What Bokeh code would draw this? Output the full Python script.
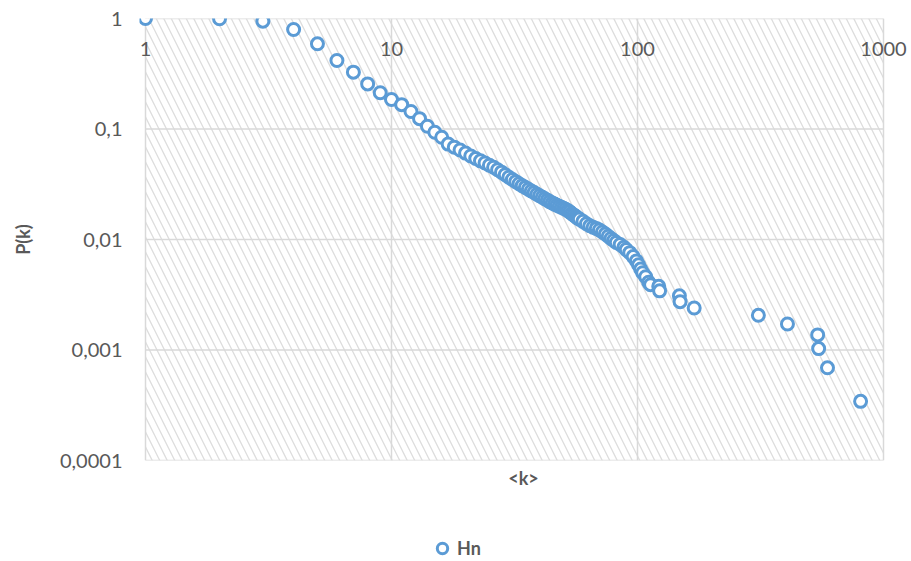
from bokeh.plotting import figure
from bokeh.layouts import column
from bokeh.models import (BoxAnnotation, Legend, LegendItem, FixedTicker,
                          CustomJSTickFormatter, Title, Range1d, ColumnDataSource)
from bokeh.embed import file_html
from bokeh.resources import INLINE

# ---- data ----
series_name = "Hn"
k_vals = [1, 2, 3, 4, 5, 6, 7, 8, 9, 10, 11, 12, 13, 14, 15, 16,
          17, 18, 19, 20, 21, 22, 23, 24, 25, 26, 27, 28, 29, 30,
          31, 32, 33, 34, 35, 36, 37, 38, 39, 40, 41, 42, 43, 44, 45,
          46, 47, 48, 49, 50, 51, 52, 53, 54, 55, 56, 57, 58, 60, 62,
          64, 66, 68, 70, 72, 74, 76, 78, 80, 82, 85, 88, 90, 93, 96,
          99, 101, 103, 105, 108, 111, 113, 122, 123, 148, 149, 170,
          310, 407, 540, 545, 592, 807]
p_vals = [1.0, 0.994, 0.946, 0.795, 0.59, 0.417, 0.327, 0.256, 0.213, 0.185,
          0.166, 0.144, 0.124, 0.106, 0.0935, 0.0843,
          0.073, 0.0685, 0.0645, 0.0605, 0.057, 0.054, 0.0515, 0.0492, 0.047,
          0.0451, 0.0428, 0.0407, 0.0386, 0.0366,
          0.0349, 0.0334, 0.032, 0.0307, 0.0296, 0.0285, 0.0275, 0.0266, 0.0257,
          0.0249, 0.0241, 0.0234, 0.0227, 0.022, 0.0214,
          0.0209, 0.0204, 0.02, 0.0196, 0.0192, 0.0188, 0.0183, 0.0178, 0.0172,
          0.0167, 0.0162, 0.0157, 0.0153, 0.0146, 0.0139,
          0.0133, 0.0129, 0.0126, 0.0122, 0.0117, 0.0112, 0.0107, 0.0102, 0.0098,
          0.0094, 0.009, 0.0085, 0.0081, 0.0076, 0.007,
          0.0064, 0.0059, 0.0054, 0.005, 0.0046, 0.0041, 0.0039, 0.00377, 0.00343,
          0.00309, 0.00274, 0.0024,
          0.00206, 0.00172, 0.00137, 0.00103, 0.00069, 0.000343]
x_ticks = [1, 10, 100, 1000]
y_ticks = [0.0001, 0.001, 0.01, 0.1, 1]
x_title = "<k>"
y_title = "P(k)"

BLUE = "#5B9BD5"
GREY_TXT = "#595959"
GRID = "#D9D9D9"
FONT = "Lato"
MARKER = dict(marker="circle", size=12, line_width=3, line_color=BLUE,
              fill_color="white")

# layout in pixels: plot area spans 145..883 horizontally (246 px per decade);
# the frame is a little wider so the first/last x labels are not clipped
DECADE_PX = 246
PAD_L, PAD_R = 6, 24
x_range = Range1d(x_ticks[0] * 10 ** (-PAD_L / DECADE_PX),
                  x_ticks[-1] * 10 ** (PAD_R / DECADE_PX))

p = figure(width=911, height=500, x_axis_type="log", y_axis_type="log",
           x_range=x_range, y_range=(y_ticks[0], y_ticks[-1]),
           output_backend="svg", toolbar_location=None,
           min_border_left=145 - PAD_L, min_border_right=911 - 883 - PAD_R,
           min_border_top=18, min_border_bottom=40)
p.outline_line_color = None
p.background_fill_color = "white"
p.border_fill_color = "white"

# hatched plot area (only between the first and last x tick)
hatch = BoxAnnotation(left=x_ticks[0], right=x_ticks[-1],
                      fill_color=None, fill_alpha=0, line_color=None,
                      hatch_pattern="\\", hatch_color="#DDDDDD",
                      hatch_scale=15, hatch_weight=1.3, level="image")
p.add_layout(hatch)

fmt = CustomJSTickFormatter(code="return tick.toString().replace('.', ',');")


def style_axis(ax):
    ax.axis_line_color = None
    ax.major_tick_line_color = None
    ax.minor_tick_line_color = None
    ax.major_tick_out = 0
    ax.major_tick_in = 0
    ax.minor_tick_out = 0
    ax.minor_tick_in = 0
    ax.major_label_text_font = FONT
    ax.major_label_text_font_size = "20px"
    ax.major_label_text_color = GREY_TXT
    ax.axis_label_text_font = FONT
    ax.axis_label_text_font_style = "bold"
    ax.axis_label_text_font_size = "18px"
    ax.axis_label_text_color = GREY_TXT


xax = p.xaxis[0]
yax = p.yaxis[0]
style_axis(xax)
style_axis(yax)
xax.formatter = fmt
yax.formatter = fmt
xax.ticker = FixedTicker(ticks=x_ticks, minor_ticks=[])
yax.ticker = FixedTicker(ticks=y_ticks, minor_ticks=[])
xax.fixed_location = y_ticks[-1]   # Excel: horizontal axis crosses at the top
xax.major_label_standoff = 23
yax.major_label_standoff = 23 - PAD_L
yax.axis_label = y_title
yax.axis_label_standoff = 23

# vertical grid lines from the axis ticks
p.xgrid[0].ticker = FixedTicker(ticks=x_ticks, minor_ticks=[])
p.xgrid[0].grid_line_color = GRID
p.xgrid[0].grid_line_width = 1.5
p.xgrid[0].level = "underlay"
# horizontal grid lines limited to the plot area 1..1000
p.ygrid[0].visible = False
p.segment(x0=[x_ticks[0]] * len(y_ticks), x1=[x_ticks[-1]] * len(y_ticks),
          y0=y_ticks, y1=y_ticks, line_color=GRID, line_width=1.5,
          level="underlay")

src = ColumnDataSource(dict(k=k_vals, p=p_vals))
p.scatter("k", "p", source=src, **MARKER)

xtitle = Title(text=x_title, align="center", text_font=FONT,
               text_font_style="bold", text_font_size="18px",
               text_color=GREY_TXT, standoff=8)
p.add_layout(xtitle, "below")

# ---- legend strip below the chart ----
lf = figure(width=911, height=61, output_backend="svg", toolbar_location=None,
            x_range=Range1d(-2, -1), y_range=Range1d(-2, -1),
            x_axis_location=None, y_axis_location=None, min_border=0)
lf.outline_line_color = None
lf.grid.visible = False
lr = lf.scatter("k", "p", source=src, **MARKER)   # off-range: legend swatch only
legend = Legend(items=[LegendItem(label=series_name, renderers=[lr])],
                location=(428 - (145 - PAD_L), 0), orientation="horizontal",
                glyph_width=28, glyph_height=26, label_standoff=1,
                padding=0, margin=0, border_line_color=None,
                background_fill_alpha=0,
                label_text_font=FONT, label_text_font_style="bold",
                label_text_font_size="18px", label_text_color=GREY_TXT)
lf.add_layout(legend)

open("out.html", "w").write(file_html(column(p, lf, spacing=0), INLINE))
